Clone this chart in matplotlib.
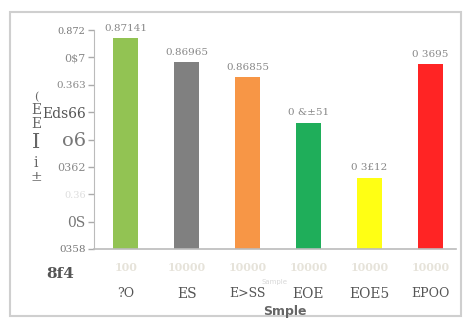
import matplotlib
matplotlib.use("Agg")
import matplotlib.pyplot as plt
from matplotlib.patches import Rectangle

W, H = 466, 322

# bar data
samples = ["?O", "ES", "E>SS", "EOE", "EOE5", "EPOO"]
values = [0.37141, 0.36965, 0.36855, 0.36521, 0.36122, 0.3695]
value_labels = ["0.87141", "0.86965", "0.86855", "0 &\u00b151", "0 3\u00a312", "0 3695"]
colors = ["#92c353", "#808080", "#f79646", "#1fae5a", "#ffff14", "#ff2424"]
faint_ticks = ["100", "10000", "10000", "10000", "10000", "10000"]

# y axis ticks
yticks = [0.372, 0.370, 0.368, 0.366, 0.364, 0.362, 0.360, 0.358, 0.356]
ytick_labels = ["0.872", "0$7", "0.363", "Eds66", "o6", "0362", "0.36", "0S", "0358"]
ytick_sizes = [7, 8, 7.5, 10, 14, 8, 7, 10, 7.5]
ytick_colors = ["#777", "#888", "#888", "#555", "#777", "#888", "#ddd", "#777", "#777"]

# stacked y label glyphs
ylabel_chars = ["(", "E", "E", "I", "i", "\u00b1"]
ylabel_y = [97, 110, 124, 143, 163, 177]
ylabel_sizes = [8, 10, 10, 15, 10, 10]


def fx(px):
    return px / W


def fy(py):
    return 1 - py / H


fig = plt.figure(figsize=(W / 100, H / 100), dpi=100)
fig.patch.set_facecolor("white")

# outer frame
fig.patches.append(Rectangle((fx(10), fy(316)), fx(461) - fx(10), fy(12) - fy(316),
                             transform=fig.transFigure, fill=False,
                             edgecolor="#cfcfcf", linewidth=1.5))

ax = fig.add_axes([fx(94), fy(249), fx(456) - fx(94), fy(30) - fy(249)])
x = list(range(len(samples)))
ax.bar(x, values, width=0.41, color=colors, zorder=2)
ax.set_xlim(-0.52, 5.42)
ax.set_ylim(0.356, 0.372)

for xi, v, lab in zip(x, values, value_labels):
    ax.annotate(lab, (xi, v), xytext=(0, 4), textcoords="offset points",
                ha="center", va="bottom", fontsize=7.5, color="#888",
                family="DejaVu Serif")

ax.set_yticks(yticks)
ax.set_yticklabels(ytick_labels, family="DejaVu Serif")
for t, s, c in zip(ax.get_yticklabels(), ytick_sizes, ytick_colors):
    t.set_fontsize(s)
    t.set_color(c)
ax.tick_params(axis="y", length=4, width=1, color="#aaa", pad=2)
ax.set_xticks([])

for side in ["top", "right"]:
    ax.spines[side].set_visible(False)
ax.spines["left"].set_color("#bbb")
ax.spines["bottom"].set_color("#bbb")
ax.spines["bottom"].set_linewidth(1.2)

# category rows under the axis
trans = ax.get_xaxis_transform()
for xi, ft, name in zip(x, faint_ticks, samples):
    ax.text(xi, -0.085, ft, transform=trans, ha="center", va="center",
            fontsize=8, fontweight="bold", color="#e6e3da", family="DejaVu Serif")
    ax.text(xi, -0.205, name, transform=trans, ha="center", va="center",
            fontsize=10 if name in ("ES", "EOE", "EOE5") else 9,
            color="#555", family="DejaVu Serif")

fig.text(fx(274), fy(282), "Sample", fontsize=5, color="#d8d8d8",
         ha="center", va="center")
fig.text(fx(285), fy(312), "Smple", fontsize=9, fontweight="bold", color="#666",
         ha="center", va="center")
fig.text(fx(60), fy(274), "8f4", fontsize=11, fontweight="bold", color="#555",
         ha="center", va="center", family="DejaVu Serif")

for ch, py, s in zip(ylabel_chars, ylabel_y, ylabel_sizes):
    fig.text(fx(36), fy(py), ch, fontsize=s, color="#666", ha="center",
             va="center", family="DejaVu Serif")

fig.savefig("out.png", dpi=100, facecolor="white")
